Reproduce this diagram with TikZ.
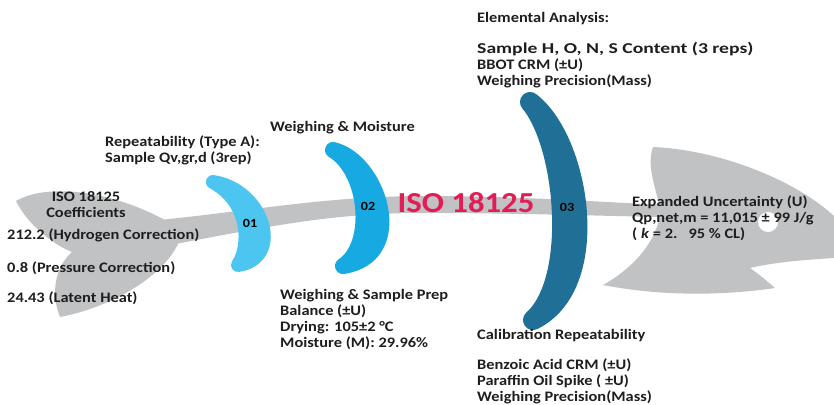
\documentclass[tikz,border=0pt]{standalone}
\usepackage{fontspec}
\newfontfamily\lbl[FakeStretch=1.13]{Carlito}
\definecolor{bone}{HTML}{C0C2C4}
\definecolor{cA}{HTML}{4CC5F0}
\definecolor{cB}{HTML}{17A9E1}
\definecolor{cC}{HTML}{1F6F96}
\definecolor{tcol}{HTML}{1E1E1E}
\definecolor{isored}{HTML}{E31C55}
\tikzset{
  txt/.style={font=\lbl\bfseries\fontsize{14.5}{16}\selectfont, text=tcol, anchor=base west, inner sep=0pt},
  ctxt/.style={txt, anchor=base},
  num/.style={font=\lbl\bfseries\fontsize{12.5}{14}\selectfont, text=black, inner sep=0pt},
  boneshape/.style={fill=bone, draw=none},
}
\begin{document}
\begin{tikzpicture}[x=1pt,y=-1pt]
\useasboundingbox (0,0) rectangle (834,404);
\fill[white] (0,0) rectangle (834,404);
% tail
\path[boneshape] (16,201) .. controls (50,181) and (122,193) .. (175,226)
  -- (178,244) .. controls (162,277) and (112,307) .. (60,317)
  .. controls (51,295) and (54,268) .. (72,252)
  .. controls (50,243) and (27,223) .. (16,201) -- cycle;
% spine
\path[boneshape] (150,221) .. controls (260,210) and (320,197) .. (420,196)
  .. controls (520,196) and (600,202) .. (665,205)
  -- (665,217) .. controls (600,216) and (520,213) .. (420,213)
  .. controls (330,213) and (260,228) .. (160,247) -- cycle;
% head
\path[boneshape] (653,147) .. controls (720,150) and (795,180) .. (834,216)
  -- (834,258) .. controls (800,260) and (770,263) .. (750,268)
  .. controls (760,275) and (768,282) .. (775,288)
  .. controls (720,296) and (660,296) .. (603,285)
  .. controls (630,270) and (655,245) .. (660,215)
  .. controls (660,195) and (645,170) .. (653,147) -- cycle;
\fill[white] (768,222) circle (10);
% crescents
\filldraw[fill=cA, draw=cA, line width=14pt, line join=round]
  (213,182) .. controls (264,190) and (284,258) .. (238,265)
  .. controls (251,246) and (250,202) .. (213,182) -- cycle;
\filldraw[fill=cB, draw=cB, line width=16pt, line join=round]
  (333,150) .. controls (378,160) and (410,256) .. (343,266)
  .. controls (375,245) and (368,171) .. (333,150) -- cycle;
\filldraw[fill=cC, draw=cC, line width=20pt, line join=round]
  (530,102) .. controls (580,140) and (604,285) .. (533,320)
  .. controls (578,280) and (566,145) .. (530,102) -- cycle;
\node[num] (n1) at (250,223) {01};
\node[num] (n2) at (368,206) {02};
\node[num] (n3) at (567,207) {03};
\node[font=\lbl\bfseries\fontsize{29}{32}\selectfont, text=isored, inner sep=0pt] (iso) at (466,203) {ISO 18125};
% tail texts
\node[ctxt] (t1) at (86,201.5) {ISO 18125};
\node[ctxt] (t2) at (86,217.5) {Coefficients};
\node[txt] (t3) at (7,239.5) {212.2 (Hydrogen Correction)};
\node[txt] (t4) at (7,272.5) {0.8 (Pressure Correction)};
\node[txt] (t5) at (7,302.5) {24.43 (Latent Heat)};
% repeatability
\node[txt] (r1) at (105,146.5) {Repeatability (Type A):};
\node[txt] (r2) at (105,162.5) {Sample Qv,gr,d (3rep)};
% weighing & moisture
\node[txt] (w0) at (270,131.5) {Weighing \& Moisture};
\node[txt] (w1) at (280,299.5) {Weighing \& Sample Prep};
\node[txt] (w2) at (280,315.5) {Balance (±U)};
\node[txt] (w3) at (280,331.5) {Drying: 105±2 °C};
\node[txt] (w4) at (280,347.5) {Moisture (M): 29.96\%};
% elemental
\node[txt] (e0) at (477,22.5) {Elemental Analysis:};
\node[txt] (e1) at (477,53) {\scalebox{1.2}[1.04]{Sample H, O, N, S Content (3 reps)}};
\node[txt] (e2) at (477,69) {BBOT CRM (±U)};
\node[txt] (e3) at (477,85) {Weighing Precision(Mass)};
% calibration
\node[txt] (c0) at (477,339.5) {Calibration Repeatability};
\node[txt] (c1) at (477,369) {Benzoic Acid CRM (±U)};
\node[txt] (c2) at (477,385) {Paraffin Oil Spike ( ±U)};
\node[txt] (c3) at (477,401) {Weighing Precision(Mass)};
% result
\node[txt] (x1) at (632,206.5) {Expanded Uncertainty (U)};
\node[txt] (x2) at (632,222.5) {Qp,net,m = 11,015 ± 99 J/g};
\node[txt] (x3) at (632,238.5) {( \textit{k} = 2.\ \ \ 95 \% CL)};
\end{tikzpicture}
\end{document}
